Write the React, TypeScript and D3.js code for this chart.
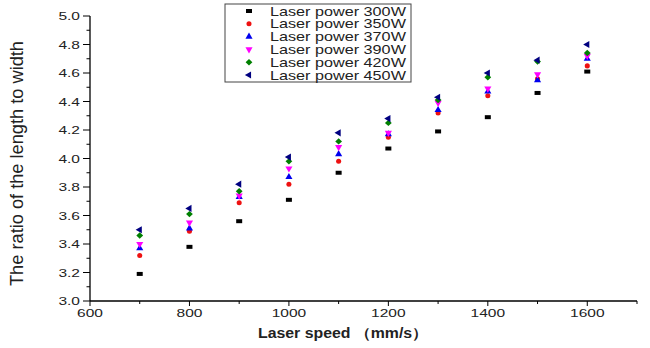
import * as d3 from "d3";

const speeds = [700, 800, 900, 1000, 1100, 1200, 1300, 1400, 1500, 1600];

const p300 = [3.19, 3.38, 3.56, 3.71, 3.90, 4.07, 4.19, 4.29, 4.46, 4.61];
const p350 = [3.32, 3.49, 3.69, 3.82, 3.98, 4.15, 4.32, 4.44, 4.56, 4.65];
const p370 = [3.37, 3.51, 3.73, 3.87, 4.03, 4.17, 4.34, 4.47, 4.55, 4.70];
const p390 = [3.40, 3.55, 3.74, 3.93, 4.08, 4.18, 4.39, 4.49, 4.59, 4.72];
const p420 = [3.46, 3.61, 3.77, 3.98, 4.12, 4.25, 4.41, 4.57, 4.68, 4.74];
const p450 = [3.50, 3.65, 3.82, 4.01, 4.18, 4.28, 4.43, 4.60, 4.69, 4.80];

const seriesNames = [
  "Laser power 300W",
  "Laser power 350W",
  "Laser power 370W",
  "Laser power 390W",
  "Laser power 420W",
  "Laser power 450W",
];

const xTicks = [600, 800, 1000, 1200, 1400, 1600];
const yTicks = [3.0, 3.2, 3.4, 3.6, 3.8, 4.0, 4.2, 4.4, 4.6, 4.8, 5.0];

const W = 650;
const H = 348;
const left = 90;
const right = 637;
const top = 16;
const bottom = 301;
const FONT = "'Liberation Sans', Arial, sans-serif";
const STRETCH = 1.35;

const series = [
  { name: seriesNames[0], values: p300, color: "#000000", shape: "square" },
  { name: seriesNames[1], values: p350, color: "#ee1111", shape: "circle" },
  { name: seriesNames[2], values: p370, color: "#0000ee", shape: "up" },
  { name: seriesNames[3], values: p390, color: "#ff00ff", shape: "down" },
  { name: seriesNames[4], values: p420, color: "#008000", shape: "diamond" },
  { name: seriesNames[5], values: p450, color: "#000080", shape: "left" },
];

const symbolPath = (shape: string) => {
  if (shape === "square") return "M-3,-2H3V2H-3Z";
  if (shape === "circle") return d3.symbol(d3.symbolCircle, 20)()!;
  if (shape === "diamond") return "M0,-3.2L3.4,0L0,3.2L-3.4,0Z";
  // triangles, rotated as needed
  return d3.symbol(d3.symbolTriangle, 22)()!;
};

const symbolRotate = (shape: string) =>
  shape === "down" ? 180 : shape === "left" ? -90 : 0;

function Marker({ x, y, shape, color }: { x: number; y: number; shape: string; color: string }) {
  return (
    <path
      d={symbolPath(shape)}
      transform={`translate(${x},${y}) rotate(${symbolRotate(shape)})`}
      fill={color}
    />
  );
}

export default function App() {
  const x = d3.scaleLinear().domain([600, 1700]).range([left, right]);
  const y = d3.scaleLinear().domain([3.0, 5.0]).range([bottom, top]);

  const xMinor = d3.range(700, 1701, 200);
  const yMinor = d3.range(3.1, 5.0, 0.2);

  const legendX = 225;
  const legendY = 4;
  const rowH = 12.8;

  return (
    <svg
      width={W}
      height={H}
      style={{ position: "absolute", left: 0, top: 0, background: "#fff" }}
      fontFamily={FONT}
    >
      {/* axes */}
      <line x1={left} x2={left} y1={top} y2={bottom} stroke="#000" strokeWidth={1.3} />
      <line x1={left} x2={right} y1={bottom} y2={bottom} stroke="#000" strokeWidth={1.3} />

      {yTicks.map((t) => (
        <g key={`y${t}`}>
          <line x1={left - 7} x2={left} y1={y(t)} y2={y(t)} stroke="#000" />
          <text
            transform={`translate(${left - 10},${y(t) + 4}) scale(${STRETCH},1)`}
            textAnchor="end"
            fontSize={11.5}
            fill="#222"
          >
            {t.toFixed(1)}
          </text>
        </g>
      ))}
      {yMinor.map((t) => (
        <line key={`ym${t}`} x1={left - 3.5} x2={left} y1={y(t)} y2={y(t)} stroke="#000" />
      ))}

      {xTicks.map((t) => (
        <g key={`x${t}`}>
          <line x1={x(t)} x2={x(t)} y1={bottom} y2={bottom + 5} stroke="#000" />
          <text
            transform={`translate(${x(t)},${bottom + 16}) scale(${STRETCH},1)`}
            textAnchor="middle"
            fontSize={11.5}
            fill="#222"
          >
            {t}
          </text>
        </g>
      ))}
      {xMinor.map((t) => (
        <line key={`xm${t}`} x1={x(t)} x2={x(t)} y1={bottom} y2={bottom + 3} stroke="#000" />
      ))}

      {/* axis titles */}
      <text
        x={343}
        y={338}
        textAnchor="middle"
        fontSize={14}
        fontWeight="bold"
        textLength={170}
        lengthAdjust="spacingAndGlyphs"
        fill="#222"
      >
        Laser speed （mm/s）
      </text>
      <text
        transform={`translate(23,${(top + bottom) / 2 + 5}) rotate(-90)`}
        textAnchor="middle"
        fontSize={19}
        textLength={245}
        lengthAdjust="spacingAndGlyphs"
        fill="#222"
      >
        The ratio of the length to width
      </text>

      {/* points */}
      {series.map((s) =>
        s.values.map((v, i) => (
          <Marker key={`${s.name}-${i}`} x={x(speeds[i])} y={y(v)} shape={s.shape} color={s.color} />
        ))
      )}

      {/* legend */}
      <rect x={legendX} y={legendY} width={186} height={78} fill="#fff" stroke="#444" strokeWidth={1} />
      {series.map((s, i) => {
        const cy = legendY + 7 + i * rowH;
        return (
          <g key={`lg${i}`}>
            <Marker x={legendX + 24} y={cy} shape={s.shape} color={s.color} />
            <text
              transform={`translate(${legendX + 45},${cy + 4.5}) scale(${STRETCH},1)`}
              fontSize={12}
              fill="#222"
            >
              {s.name}
            </text>
          </g>
        );
      })}
    </svg>
  );
}
